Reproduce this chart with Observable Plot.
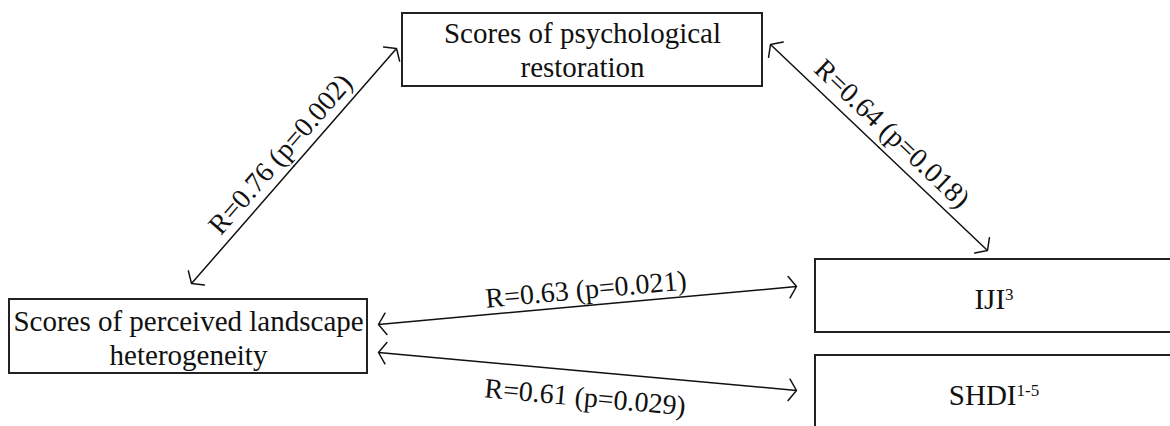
<!DOCTYPE html>
<html>
<head>
<meta charset="utf-8">
<script src="https://cdn.jsdelivr.net/npm/d3@7"></script>
<script src="https://cdn.jsdelivr.net/npm/@observablehq/plot@0.6"></script>
<style>
  html, body { margin: 0; padding: 0; background: #fff; overflow: hidden; }
  #chart svg { display: block; }
</style>
</head>
<body>
<div id="chart"></div>
<script>
// ---- data ----
const nodeLabels = ["Scores of psychological\nrestoration", "Scores of perceived landscape\nheterogeneity", "IJI", "SHDI"];
const nodeSups = ["", "", "3", "1-5"];
const edgeFrom = [0, 0, 1, 1];
const edgeTo = [1, 2, 2, 3];
const edgeR = [0.76, 0.64, 0.63, 0.61];
const edgeP = [0.002, 0.018, 0.021, 0.029];

// ---- layout (diagram positions, in pixel domain units) ----
const boxX1 = [402, 9, 815, 815];
const boxX2 = [762, 367, 1172, 1172];
const boxY1 = [13, 299, 259, 355];
const boxY2 = [86, 373, 332, 432];
const labelY = [49, 337, 298, 394];
// arrow end points: [end at "from" node, end at "to" node]
const arrowAx = [396, 770, 378, 378];
const arrowAy = [48, 44, 324, 352];
const arrowBx = [191, 987, 796, 796];
const arrowBy = [283, 250, 286, 390];
const labelOffset = [18, 19, 16, -26];

const W = 1170, H = 426;
const FONT = "Liberation Serif";
const boxFont = 29, supFont = 17, edgeFont = 28;

const nodes = nodeLabels.map((label, i) => ({
  label, sup: nodeSups[i],
  x1: boxX1[i], x2: boxX2[i], y1: boxY1[i], y2: boxY2[i],
  cx: (boxX1[i] + boxX2[i]) / 2, ty: labelY[i]
}));

const edges = edgeR.map((r, i) => {
  const ax = arrowAx[i], ay = arrowAy[i], bx = arrowBx[i], by = arrowBy[i];
  const mx = (ax + bx) / 2, my = (ay + by) / 2;
  const [lx, ly, rx, ry] = ax < bx ? [ax, ay, bx, by] : [bx, by, ax, ay];
  const ang = Math.atan2(ry - ly, rx - lx);
  const deg = ang * 180 / Math.PI;
  const ux = Math.sin(ang), uy = -Math.cos(ang); // text "up" vector
  return {
    from: edgeFrom[i], to: edgeTo[i],
    text: `R=${r.toFixed(2)} (p=${edgeP[i].toFixed(3)})`,
    ax, ay, bx, by, mx, my, deg,
    tx: mx + ux * labelOffset[i], ty: my + uy * labelOffset[i]
  };
});

const arrowHalf = edges.flatMap(e => [
  {x1: e.mx, y1: e.my, x2: e.ax, y2: e.ay},
  {x1: e.mx, y1: e.my, x2: e.bx, y2: e.by}
]);

const chart = Plot.plot({
  width: W, height: H,
  margin: 0,
  style: {fontFamily: FONT, background: "#fff", color: "#111"},
  x: {domain: [0, W], range: [0, W], axis: null},
  y: {domain: [0, H], range: [0, H], axis: null},
  marks: [
    Plot.rect(nodes, {x1: "x1", x2: "x2", y1: "y1", y2: "y2", fill: "none", stroke: "#222", strokeWidth: 2}),
    Plot.text(nodes, {x: "cx", y: "ty", text: "label", fontSize: boxFont, fontFamily: FONT, fill: "#111",
      textAnchor: "middle", lineHeight: 1.17, className: "node-label"}),
    Plot.arrow(arrowHalf, {x1: "x1", y1: "y1", x2: "x2", y2: "y2", stroke: "#111", strokeWidth: 1.5, headLength: 13, headAngle: 110}),
    Plot.text(edges, {x: "tx", y: "ty", text: "text", rotate: "deg", fontSize: edgeFont, fontFamily: FONT, fill: "#111"})
  ]
});

// attach superscripts as tspans to the single-line node labels
const supByLabel = new Map(nodes.filter(d => d.sup).map(d => [d.label, d.sup]));
chart.querySelectorAll("text").forEach(t => {
  const s = supByLabel.get(t.textContent);
  if (s) {
    const ts = document.createElementNS("http://www.w3.org/2000/svg", "tspan");
    ts.setAttribute("font-size", supFont);
    ts.setAttribute("dy", "-9");
    ts.textContent = s;
    t.appendChild(ts);
  }
});

document.getElementById("chart").appendChild(chart);
</script>
</body>
</html>
